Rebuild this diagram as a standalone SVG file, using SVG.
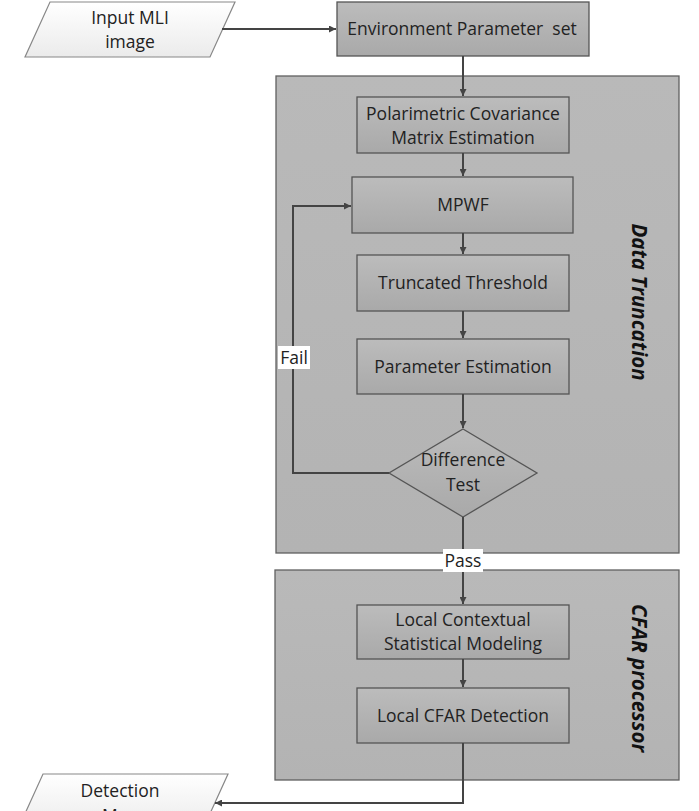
<svg xmlns="http://www.w3.org/2000/svg" width="699" height="811" viewBox="0 0 699 811">
<defs>
<linearGradient id="gBox" x1="0" y1="0" x2="0" y2="1"><stop offset="0" stop-color="#bcbcbc"/><stop offset="1" stop-color="#a9a9a9"/></linearGradient>
<linearGradient id="gCont" x1="0" y1="0" x2="0" y2="1"><stop offset="0" stop-color="#b9b9b9"/><stop offset="1" stop-color="#b3b3b3"/></linearGradient>
<linearGradient id="gPar" x1="0" y1="0" x2="0" y2="1"><stop offset="0" stop-color="#ffffff"/><stop offset="1" stop-color="#ebebeb"/></linearGradient>
<marker id="arr" viewBox="0 0 10 10" refX="10" refY="5" markerWidth="7" markerHeight="7" orient="auto" markerUnits="userSpaceOnUse"><path d="M0,0 L10,5 L0,10 z" fill="#444"/></marker>
</defs>
<style>
.cont{fill:url(#gCont);stroke:#606060;stroke-width:1.3}
.box{fill:url(#gBox);stroke:#555;stroke-width:1.3}
.par{fill:url(#gPar);stroke:#888;stroke-width:1.2}
.t{font-family:"Open Sans","Noto Sans",sans-serif;font-size:17.5px;fill:#222;text-anchor:middle}
.vt{font-family:"Open Sans","Noto Sans",sans-serif;font-size:20.5px;font-weight:bold;font-style:italic;fill:#111;text-anchor:middle}
.c{fill:none;stroke:#444;stroke-width:2}
.lbl{fill:#fff}
</style>
<rect width="699" height="811" fill="#fff"/>
<g id="dataTruncation"><rect class="cont" x="276" y="76" width="403" height="477"/><text class="vt" transform="translate(632,302) rotate(90)">Data Truncation</text></g>
<g id="cfarProcessor"><rect class="cont" x="275" y="570" width="404" height="210"/><text class="vt" transform="translate(632,678) rotate(90)">CFAR processor</text></g>
<g id="input"><polygon class="par" points="50,2 235,2 210,57 25,57"/><text class="t" x="130" y="24">Input MLI</text><text class="t" x="130" y="48">image</text></g>
<g id="env"><rect class="box" x="337" y="2" width="252" height="54"/><text class="t" x="462" y="35" xml:space="preserve">Environment Parameter  set</text></g>
<g id="polCov"><rect class="box" x="357" y="97" width="212" height="56"/><text class="t" x="463" y="120">Polarimetric Covariance</text><text class="t" x="463" y="144">Matrix Estimation</text></g>
<g id="mpwf"><rect class="box" x="352" y="177" width="221" height="56"/><text class="t" x="463" y="211">MPWF</text></g>
<g id="trunc"><rect class="box" x="357" y="255" width="212" height="56"/><text class="t" x="463" y="289">Truncated Threshold</text></g>
<g id="paramEst"><rect class="box" x="357" y="339" width="212" height="55"/><text class="t" x="463" y="373">Parameter Estimation</text></g>
<g id="diff"><polygon class="box" points="463,429 537,473 463,517 389,473"/><text class="t" x="463" y="466">Difference</text><text class="t" x="463" y="491">Test</text></g>
<g id="localCtx"><rect class="box" x="357" y="605" width="212" height="54"/><text class="t" x="463" y="626">Local Contextual</text><text class="t" x="463" y="650">Statistical Modeling</text></g>
<g id="localCfar"><rect class="box" x="357" y="688" width="212" height="55"/><text class="t" x="463" y="722">Local CFAR Detection</text></g>
<g id="detMap"><polygon class="par" points="43,774 228,774 203,829 18,829"/><text class="t" x="120" y="797">Detection</text><text class="t" x="120" y="822">Map</text></g>
<g id="connectors">
<line class="c" x1="222" y1="29" x2="336" y2="29" marker-end="url(#arr)"/>
<line class="c" x1="463" y1="56" x2="463" y2="96" marker-end="url(#arr)"/>
<line class="c" x1="463" y1="153" x2="463" y2="176" marker-end="url(#arr)"/>
<line class="c" x1="463" y1="233" x2="463" y2="254" marker-end="url(#arr)"/>
<line class="c" x1="463" y1="311" x2="463" y2="338" marker-end="url(#arr)"/>
<line class="c" x1="463" y1="394" x2="463" y2="428" marker-end="url(#arr)"/>
<polyline class="c" points="389,473 293,473 293,206 351,206" marker-end="url(#arr)"/>
<line class="c" x1="463" y1="517" x2="463" y2="604" marker-end="url(#arr)"/>
<line class="c" x1="463" y1="659" x2="463" y2="687" marker-end="url(#arr)"/>
<polyline class="c" points="463,743 463,803 215,803" marker-end="url(#arr)"/>
<rect class="lbl" x="278" y="346" width="32" height="23"/><text class="t" x="294" y="364">Fail</text>
<rect class="lbl" x="443" y="549" width="40" height="23"/><text class="t" x="463" y="567">Pass</text>
</g>
</svg>
